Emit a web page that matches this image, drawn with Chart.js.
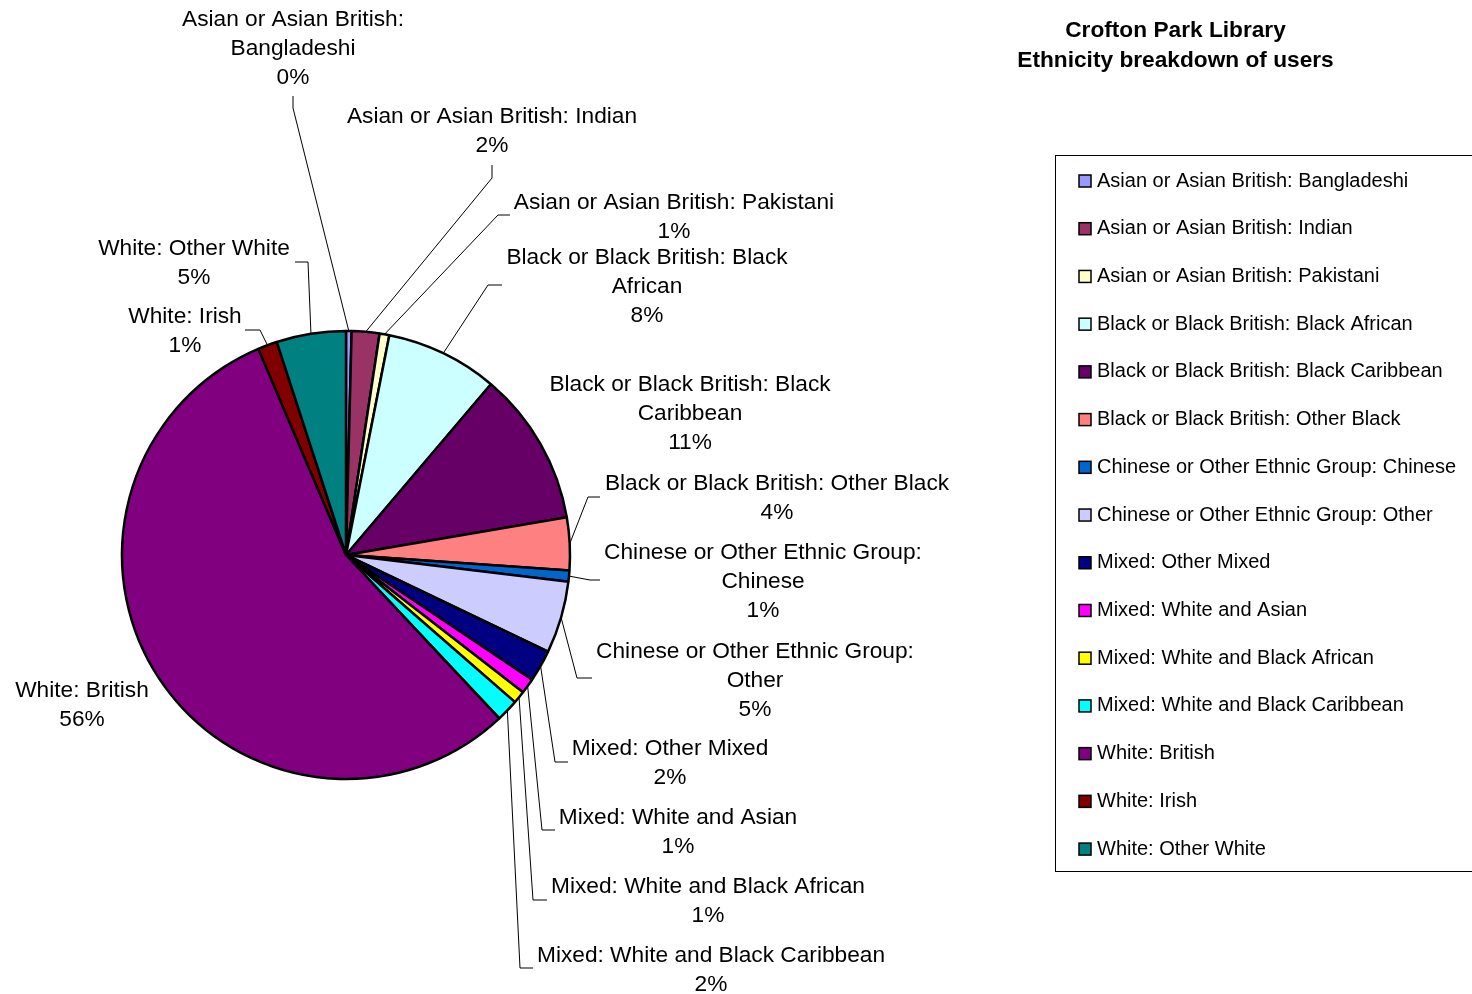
<!DOCTYPE html>
<html>
<head>
<meta charset="utf-8">
<title>Crofton Park Library - Ethnicity breakdown of users</title>
<script src="https://cdn.jsdelivr.net/npm/chart.js@4.4.1/dist/chart.umd.min.js"></script>
<style>
  html, body { margin: 0; padding: 0; background: #fff; overflow: hidden; }
  #wrap { position: relative; width: 1472px; height: 994px; }
</style>
</head>
<body>
<div id="wrap"><canvas id="ethnicityChart" width="1472" height="994"></canvas></div>
<script>
// Library users by ethnic group (share of users, %)
const categories = [
  "Asian or Asian British: Bangladeshi",
  "Asian or Asian British: Indian",
  "Asian or Asian British: Pakistani",
  "Black or Black British: Black African",
  "Black or Black British: Black Caribbean",
  "Black or Black British: Other Black",
  "Chinese or Other Ethnic Group: Chinese",
  "Chinese or Other Ethnic Group: Other",
  "Mixed: Other Mixed",
  "Mixed: White and Asian",
  "Mixed: White and Black African",
  "Mixed: White and Black Caribbean",
  "White: British",
  "White: Irish",
  "White: Other White"
];
const shares = [0.4, 2.0, 0.7, 8.1, 11.1, 3.8, 0.8, 5.2, 2.3, 1.1, 0.9, 1.6, 55.6, 1.4, 5.0];
const sliceColours = [
  "#9999FF", "#993366", "#FFFFCC", "#CCFFFF", "#660066",
  "#FF8080", "#0066CC", "#CCCCFF", "#000080", "#FF00FF",
  "#FFFF00", "#00FFFF", "#800080", "#800000", "#008080"
];
const chartTitle = ["Crofton Park Library", "Ethnicity breakdown of users"];

// where each data label sits: centre x, middle of first line y, wrap width,
// and the leader line bend/end (null when the label has no leader)
const labelLayout = [
  { x: 293, y: 20,  wrap: 240, leader: [[293, 108], [293, 96]] },
  { x: 492, y: 117, wrap: 400, leader: [[492, 178], [492, 165]] },
  { x: 674, y: 203, wrap: 400, leader: [[498, 215], [510, 215]] },
  { x: 647, y: 258, wrap: 300, leader: [[488, 285], [502, 285]] },
  { x: 690, y: 385, wrap: 300, leader: null },
  { x: 777, y: 484, wrap: 400, leader: [[588, 497], [600, 497]] },
  { x: 763, y: 553, wrap: 340, leader: [[590, 580], [600, 580]] },
  { x: 755, y: 652, wrap: 340, leader: [[577, 678], [592, 678]] },
  { x: 670, y: 749, wrap: 400, leader: [[555, 762], [568, 762]] },
  { x: 678, y: 818, wrap: 400, leader: [[542, 830], [555, 830]] },
  { x: 708, y: 887, wrap: 400, leader: [[533, 900], [547, 900]] },
  { x: 711, y: 956, wrap: 400, leader: [[520, 968], [533, 968]] },
  { x: 82,  y: 691, wrap: 400, leader: null },
  { x: 185, y: 317, wrap: 400, leader: [[260, 330], [245, 330]] },
  { x: 194, y: 249, wrap: 400, leader: [[308, 262], [295, 262]] }
];

const FONT = "'Liberation Sans', Arial, sans-serif";
const total = shares.reduce((a, b) => a + b, 0);

function wrapText(ctx, text, width) {
  const words = text.split(" ");
  const lines = [];
  let cur = "";
  words.forEach(w => {
    const test = cur ? cur + " " + w : w;
    if (cur && ctx.measureText(test).width > width) {
      lines.push(cur);
      cur = w;
    } else {
      cur = test;
    }
  });
  if (cur) lines.push(cur);
  return lines;
}

// labels with leader lines, title and boxed legend
const decorations = {
  id: "decorations",
  afterDraw(chart) {
    const ctx = chart.ctx;
    const arcs = chart.getDatasetMeta(0).data;
    ctx.save();

    // leader lines
    ctx.strokeStyle = "#000";
    ctx.lineWidth = 1;
    arcs.forEach((arc, i) => {
      const lay = labelLayout[i];
      if (!lay.leader) return;
      const p = arc.getProps(["x", "y", "startAngle", "endAngle", "outerRadius"], true);
      const mid = (p.startAngle + p.endAngle) / 2;
      const sx = p.x + Math.cos(mid) * p.outerRadius;
      const sy = p.y + Math.sin(mid) * p.outerRadius;
      ctx.beginPath();
      ctx.moveTo(sx, sy);
      lay.leader.forEach(pt => ctx.lineTo(pt[0], pt[1]));
      ctx.stroke();
    });

    // data labels
    ctx.fillStyle = "#000";
    ctx.font = "22.7px " + FONT;
    ctx.textAlign = "center";
    ctx.textBaseline = "middle";
    categories.forEach((name, i) => {
      const lay = labelLayout[i];
      const lines = wrapText(ctx, name, lay.wrap);
      lines.push(Math.round(shares[i] / total * 100) + "%");
      lines.forEach((ln, k) => ctx.fillText(ln, lay.x, lay.y + k * 28.8));
    });

    // title
    ctx.font = "bold 22.7px " + FONT;
    chartTitle.forEach((t, k) => ctx.fillText(t, 1175.5, 31 + k * 30));

    // legend box
    ctx.strokeStyle = "#000";
    ctx.lineWidth = 1;
    ctx.strokeRect(1055.5, 155.5, 500, 716);
    ctx.font = "20px " + FONT;
    ctx.textAlign = "left";
    categories.forEach((name, i) => {
      const cy = 181 + i * 47.72;
      ctx.fillStyle = sliceColours[i];
      ctx.fillRect(1079, cy - 6, 12, 12);
      ctx.lineWidth = 1.5;
      ctx.strokeStyle = "#000";
      ctx.strokeRect(1079, cy - 6, 12, 12);
      ctx.fillStyle = "#000";
      ctx.fillText(name, 1097, cy);
    });
    ctx.restore();
  }
};

new Chart(document.getElementById("ethnicityChart"), {
  type: "pie",
  data: {
    labels: categories,
    datasets: [{
      data: shares,
      backgroundColor: sliceColours,
      borderColor: "#000",
      borderWidth: 2.5
    }]
  },
  options: {
    responsive: false,
    animation: false,
    radius: 224,
    layout: { padding: { left: 122, top: 331, right: 902, bottom: 215 } },
    plugins: {
      legend: { display: false },
      title: { display: false },
      tooltip: { enabled: false }
    }
  },
  plugins: [decorations]
});
</script>
</body>
</html>
